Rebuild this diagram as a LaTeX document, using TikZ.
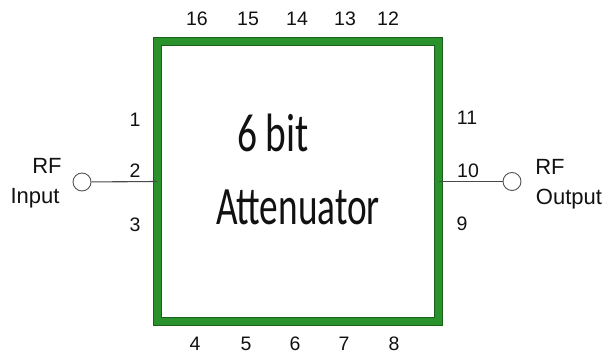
\documentclass[tikz,border=0pt]{standalone}
\usepackage{fontspec}
\usepackage{graphicx}
\setmainfont{Liberation Sans}
\newfontfamily\boxfont{Carlito}
\usetikzlibrary{positioning}
\definecolor{BOXg}{HTML}{2A922A}
\definecolor{BOXd}{HTML}{1C5E1C}
\definecolor{WIRE}{HTML}{4A4A4A}
\definecolor{PORTc}{HTML}{555555}
\definecolor{INKc}{HTML}{111111}

\begin{document}
\begin{tikzpicture}[
  x=1pt, y=-1pt,
  % attenuator body: green frame with a dark rim
  chip/.style={draw=BOXd, line width=1pt, double=BOXg, double distance=7pt,
               fill=white, minimum width=281pt, minimum height=280pt, inner sep=0pt},
  % pin numbers round the body
  pinnum/.style={font=\fontsize{19.5}{22}\selectfont, color=INKc, inner sep=0pt},
  % RF port circle
  port/.style={circle, draw=PORTc, line width=0.9pt, fill=white,
               minimum size=18pt, inner sep=0pt},
  portlbl/.style={font=\fontsize{22}{25}\selectfont, color=INKc, inner sep=0pt},
  wire/.style={draw=WIRE, line width=1.1pt},
]
\useasboundingbox (0,0) rectangle (610,353);

% ---------- Body ----------
\node[chip] (ATT) at (298,181.5) {};
\node[font=\boxfont\fontsize{54}{58}\selectfont, color=INKc, inner sep=0pt] (T1)
  at (273,133) {\scalebox{0.73}[1]{6 bit}};
\node[font=\boxfont\fontsize{54}{58}\selectfont, color=INKc, inner sep=0pt] (T2)
  at (298,207) {\scalebox{0.69}[1]{Attenuator}};

% ---------- Pin numbers ----------
\foreach \n/\xx in {16/197, 15/248, 14/297, 13/345, 12/388}
  \node[pinnum] (p\n) at (\xx,19) {\n};
\foreach \n/\xx in {4/195, 5/246, 6/295, 7/344, 8/394}
  \node[pinnum] (p\n) at (\xx,343.5) {\n};
\foreach \n/\yy in {1/120, 2/171, 3/225}
  \node[pinnum] (p\n) at (135,\yy) {\n};
\foreach \n/\xx/\yy in {11/467/118, 10/468/171, 9/462/224}
  \node[pinnum] (p\n) at (\xx,\yy) {\n};

% ---------- RF ports ----------
\node[port] (IN) at (82,182) {};
\node[port] (OUT) at (512,181.5) {};
\draw[wire] (IN) -- (ATT.west);
\draw[wire] (ATT.east) -- (OUT);

\node[portlbl] (INa) at (47,166) {RF};
\node[portlbl] (INb) at (35,198) {Input};
\node[portlbl] (OUTa) at (550,167) {RF};
\node[portlbl] (OUTb) at (569,199) {Output};

\end{tikzpicture}
\end{document}
